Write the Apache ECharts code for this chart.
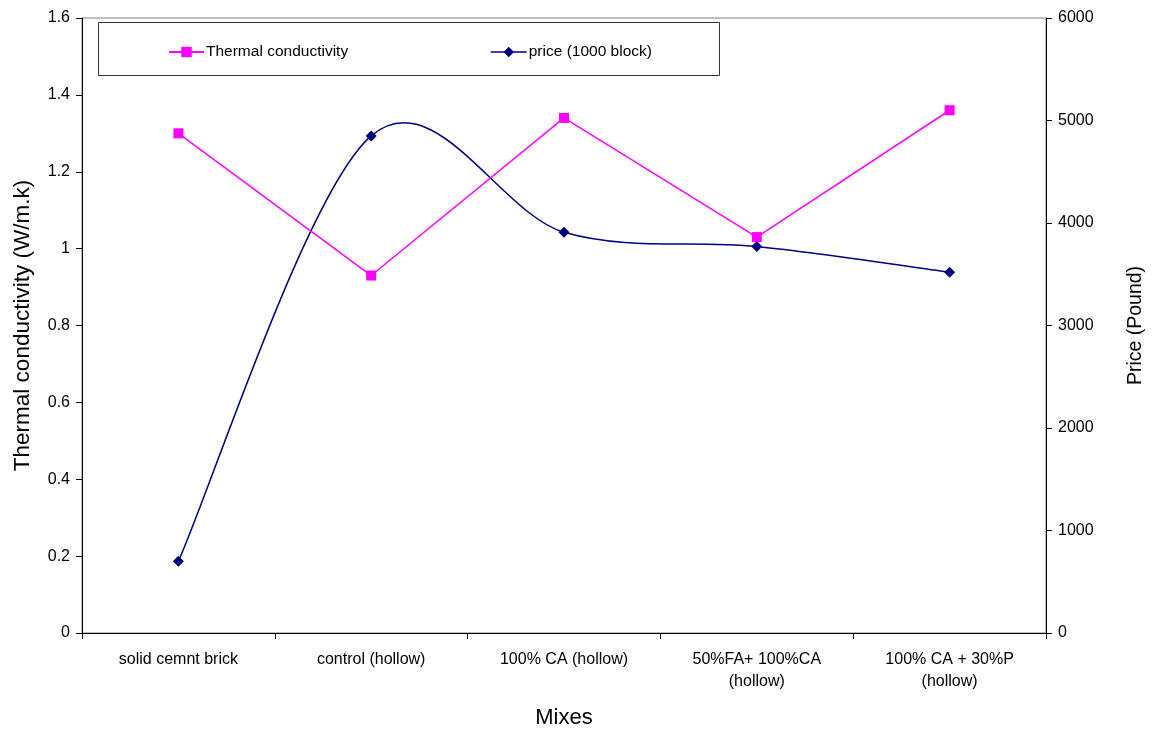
<!DOCTYPE html>
<html><head><meta charset="utf-8">
<script src="https://cdn.jsdelivr.net/npm/echarts@6/dist/echarts.min.js"></script>
<style>html,body{margin:0;padding:0;background:#fff}#c{width:1158px;height:729px}</style>
</head><body><div id="c"></div>
<script>
var categories = ['solid cemnt brick','control (hollow)','100% CA (hollow)','50%FA+ 100%CA\n(hollow)','100% CA + 30%P\n(hollow)'];
var thermal = [1.30, 0.93, 1.34, 1.03, 1.36];
var price = [700, 4850, 3910, 3770, 3520];
var leftTicks = {min:0, max:1.6, interval:0.2};
var rightTicks = {min:0, max:6000, interval:1000};

var font = 'Liberation Sans, Arial, sans-serif';
var chart = echarts.init(document.getElementById('c'), null, {renderer:'canvas'});

// Excel-style smoothed curve through the price points (computed from axis coordinates)
function renderPriceCurve(params, api) {
  if (params.dataIndex !== 0) return null;
  var pts = price.map(function(v, i){ return api.coord([i, v]); });
  var n = pts.length, t = 1/6;
  var d = 'M' + pts[0][0] + ' ' + pts[0][1];
  for (var i = 0; i < n - 1; i++) {
    var p0 = pts[Math.max(i-1,0)], p1 = pts[i], p2 = pts[i+1], p3 = pts[Math.min(i+2,n-1)];
    var c1 = [p1[0] + (p2[0]-p0[0])*t, p1[1] + (p2[1]-p0[1])*t];
    var c2 = [p2[0] - (p3[0]-p1[0])*t, p2[1] - (p3[1]-p1[1])*t];
    d += ' C' + c1[0] + ' ' + c1[1] + ' ' + c2[0] + ' ' + c2[1] + ' ' + p2[0] + ' ' + p2[1];
  }
  return {type:'path', shape:{pathData:d}, style:{fill:'none', stroke:'#000080', lineWidth:1.5}, silent:true};
}

chart.setOption({
  animation:false,
  backgroundColor:'#fff',
  grid:{left:82, right:112, top:18, bottom:96, show:true, borderColor:'#808080', borderWidth:1, containLabel:false, outerBoundsMode:'none'},
  graphic:[{type:'rect', shape:{x:98.5, y:22.5, width:621, height:53}, style:{fill:'#fff', stroke:'#333', lineWidth:1}, z:50}],
  legend:[
    {data:[{name:'Thermal conductivity'}], left:163, top:39, itemWidth:35, itemHeight:13, itemGap:4,
     textStyle:{fontFamily:font, fontSize:15.5, color:'#000', padding:[0,0,0,-3]}, z:60},
    {data:[{name:'price (1000 block)', lineStyle:{opacity:1, color:'#000080', width:1.5}}], left:485, top:39, itemWidth:36, itemHeight:13,
     textStyle:{fontFamily:font, fontSize:15.5, color:'#000', padding:[0,0,0,-3]}, z:60}
  ],
  xAxis:{type:'category', data:categories, boundaryGap:true,
    name:'Mixes', nameLocation:'middle', nameGap:74, nameTextStyle:{fontFamily:font, fontSize:22, color:'#000'},
    axisLine:{lineStyle:{color:'#000', width:1}},
    axisTick:{show:true, length:6, lineStyle:{color:'#000'}},
    axisLabel:{fontFamily:font, fontSize:16, color:'#000', margin:16, lineHeight:22, interval:0}
  },
  yAxis:[
    {type:'value', min:leftTicks.min, max:leftTicks.max, interval:leftTicks.interval,
     name:'Thermal conductivity (W/m.k)', nameLocation:'middle', nameGap:48, nameRotate:90,
     nameTextStyle:{fontFamily:font, fontSize:22.5, color:'#000'},
     axisLine:{show:true, lineStyle:{color:'#000'}}, axisTick:{show:true, length:6, lineStyle:{color:'#000'}},
     axisLabel:{fontFamily:font, fontSize:16, color:'#000', margin:12, formatter:function(v){return +v.toFixed(1)+'';}},
     splitLine:{show:false}},
    {type:'value', min:rightTicks.min, max:rightTicks.max, interval:rightTicks.interval, position:'right',
     name:'Price (Pound)', nameLocation:'middle', nameGap:80, nameRotate:90,
     nameTextStyle:{fontFamily:font, fontSize:19.5, color:'#000'},
     axisLine:{show:true, lineStyle:{color:'#000'}}, axisTick:{show:true, length:6, lineStyle:{color:'#000'}},
     axisLabel:{fontFamily:font, fontSize:16, color:'#000', margin:12, formatter:function(v){return String(v);}},
     splitLine:{show:false}}
  ],
  series:[
    {name:'Thermal conductivity', type:'line', data:thermal, yAxisIndex:0, z:3,
     symbol:'rect', symbolSize:10, lineStyle:{color:'#ff00ff', width:1.5}, itemStyle:{color:'#ff00ff'}},
    {name:'price curve', type:'custom', yAxisIndex:1, z:2, silent:true,
     data:price.map(function(v,i){return [i,v];}), renderItem:renderPriceCurve},
    {name:'price (1000 block)', type:'line', data:price, yAxisIndex:1, z:4,
     symbol:'diamond', symbolSize:11, lineStyle:{color:'#000080', width:1.5, opacity:0}, itemStyle:{color:'#000080'}}
  ]
});
</script></body></html>
